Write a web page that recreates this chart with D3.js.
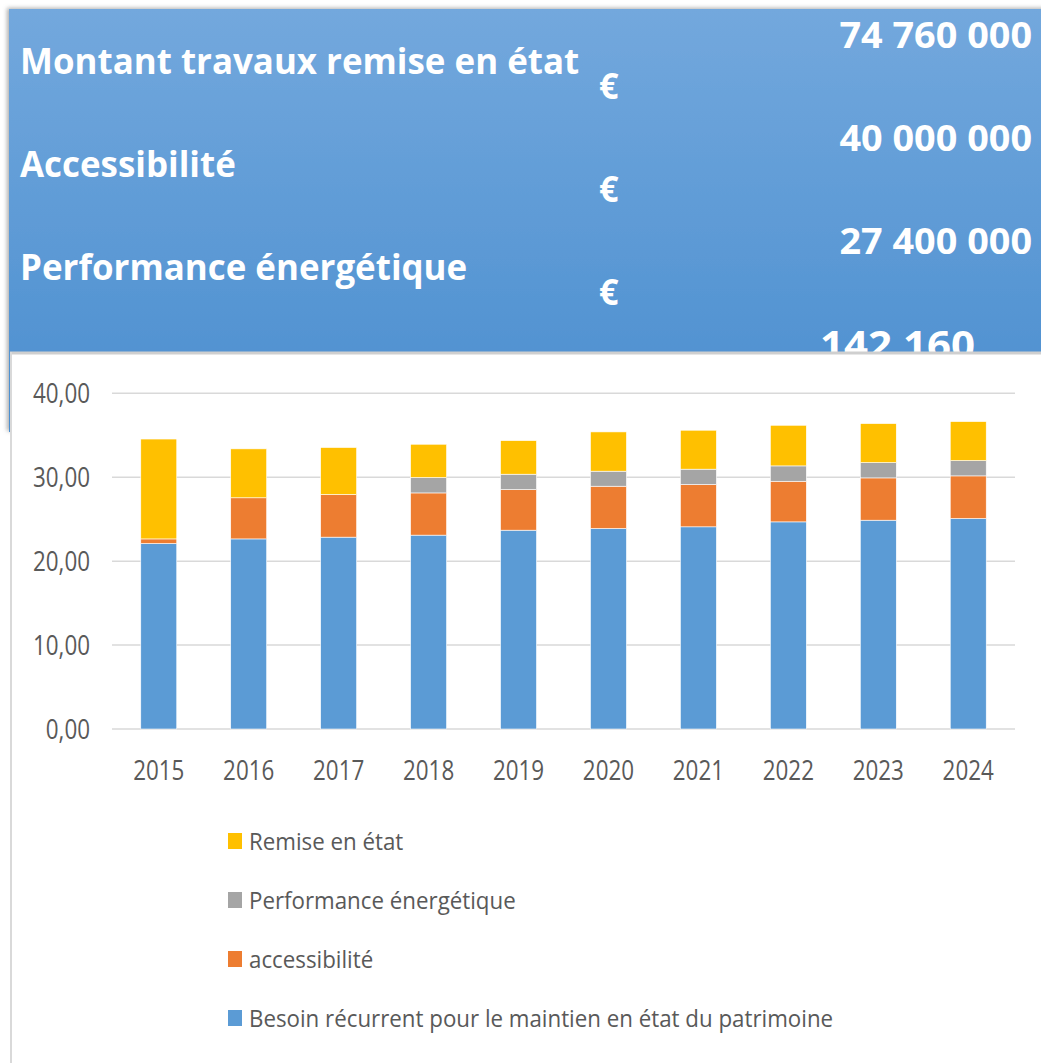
<!DOCTYPE html>
<html>
<head>
<meta charset="utf-8">
<script src="https://cdn.jsdelivr.net/npm/d3@7"></script>
<style>
  body { margin: 0; background: #fff; }
  svg { display: block; }
</style>
</head>
<body>
<script>
// données (millions d'euros)
const years = ["2015", "2016", "2017", "2018", "2019", "2020", "2021", "2022", "2023", "2024"];
const besoin = [22.1, 22.65, 22.86, 23.1, 23.69, 23.89, 24.09, 24.68, 24.88, 25.08];
const accessibilite = [0.55, 4.9, 5.08, 5.03, 4.84, 5.04, 5.04, 4.84, 5.04, 5.08];
const performance = [0, 0, 0, 1.83, 1.83, 1.79, 1.83, 1.83, 1.82, 1.82];
const remise = [11.9, 5.83, 5.6, 3.97, 4.0, 4.68, 4.64, 4.84, 4.65, 4.65];
const yTicks = [0, 10, 20, 30, 40];

const seriesKeys = ["besoin", "accessibilite", "performance", "remise"];
const seriesNames = ["Besoin récurrent pour le maintien en état du patrimoine", "accessibilité", "Performance énergétique", "Remise en état"];
const seriesColors = ["#5b9bd5", "#ed7d31", "#a5a5a5", "#ffc000"];

const headerLabels = ["Montant travaux remise en état", "Accessibilité", "Performance énergétique", ""];
const headerAmounts = ["74 760 000", "40 000 000", "27 400 000", "142 160"];

const width = 1041, height = 1063;

const table = years.map((y, i) => ({
  year: y, besoin: besoin[i], accessibilite: accessibilite[i],
  performance: performance[i], remise: remise[i]
}));

const svg = d3.select("body").append("svg")
    .attr("width", width)
    .attr("height", height)
    .attr("viewBox", [0, 0, width, height]);

const defs = svg.append("defs");
const grad = defs.append("linearGradient")
    .attr("id", "bleu")
    .attr("x1", 0).attr("y1", 0).attr("x2", 0).attr("y2", 1);
grad.append("stop").attr("offset", "0%").attr("stop-color", "#73a8dd");
grad.append("stop").attr("offset", "100%").attr("stop-color", "#4a8ecf");

const shadow = defs.append("filter").attr("id", "ombre")
    .attr("x", "-5%").attr("y", "-5%").attr("width", "110%").attr("height", "110%");
shadow.append("feDropShadow")
    .attr("dx", -2).attr("dy", -1)
    .attr("stdDeviation", 2)
    .attr("flood-color", "#8c8c8c")
    .attr("flood-opacity", 0.7);

// bandeau bleu
svg.append("rect")
    .attr("x", 9).attr("y", 9)
    .attr("width", width)
    .attr("height", 423)
    .attr("fill", "url(#bleu)")
    .attr("filter", "url(#ombre)");

const head = svg.append("g")
    .attr("font-family", "'Open Sans', sans-serif")
    .attr("font-weight", 700)
    .attr("font-size", 36)
    .attr("fill", "#fff");

const rowStep = 103;
headerLabels.forEach((label, i) => {
  const y0 = i * rowStep;
  const last = i === headerLabels.length - 1;
  if (label) {
    head.append("g").attr("transform", `translate(20,${74 + y0})`)
      .append("text")
        .attr("transform", "scale(0.97,1)")
        .text(label);
    head.append("g").attr("transform", `translate(599,${99 + y0})`)
      .append("text")
        .attr("transform", "scale(0.95,1)")
        .text("€");
  }
  head.append("g").attr("transform", `translate(${last ? 975 : 1032},${(last ? 50 : 48) + y0})`)
    .append("text")
      .attr("text-anchor", "end")
      .attr("font-size", last ? 40 : 36)
      .attr("transform", "scale(1.05,1)")
      .text(headerAmounts[i]);
});

// panneau blanc du graphique
svg.append("rect")
    .attr("x", 11).attr("y", 352)
    .attr("width", width).attr("height", height - 352)
    .attr("fill", "#fff");
svg.append("line")
    .attr("x1", 10).attr("x2", width).attr("y1", 353).attr("y2", 353)
    .attr("stroke", "#cfcfcf").attr("stroke-width", 3);
svg.append("line")
    .attr("x1", 11).attr("x2", 11).attr("y1", 352).attr("y2", height)
    .attr("stroke", "#d9d9d9").attr("stroke-width", 2);

const x = d3.scaleBand()
    .domain(years)
    .range([112, 1015])
    .paddingInner(0.6)
    .paddingOuter(0.32);

const y = d3.scaleLinear()
    .domain([0, 40])
    .range([729, 393.3]);

const textColor = "#595959";
const condense = 0.8;

// grille
svg.append("g")
    .selectAll("line")
    .data(yTicks)
    .join("line")
      .attr("x1", 112).attr("x2", 1015)
      .attr("y1", d => y(d)).attr("y2", d => y(d))
      .attr("stroke", "#d9d9d9")
      .attr("stroke-width", 1.5);

// étiquettes axe y
svg.append("g")
    .attr("font-family", "'Open Sans', sans-serif")
    .attr("font-size", 28)
    .attr("fill", textColor)
  .selectAll("g")
  .data(yTicks)
  .join("g")
    .attr("transform", d => `translate(90,${y(d)})`)
  .append("text")
    .attr("text-anchor", "end")
    .attr("dy", "0.36em")
    .attr("transform", `scale(${condense},1)`)
    .text(d => d3.format(".2f")(d).replace(".", ","));

// barres empilées
const stacked = d3.stack().keys(seriesKeys)(table);
const color = d3.scaleOrdinal(seriesKeys, seriesColors);

svg.append("g")
  .selectAll("g")
  .data(stacked)
  .join("g")
    .attr("fill", d => color(d.key))
  .selectAll("rect")
  .data(d => d.filter(s => s[1] - s[0] > 0))
  .join("rect")
    .attr("x", d => x(d.data.year))
    .attr("width", x.bandwidth())
    .attr("y", d => y(d[1]))
    .attr("height", d => y(d[0]) - y(d[1]))
    .attr("stroke", "#fff")
    .attr("stroke-width", 0.6);

// étiquettes axe x
svg.append("g")
    .attr("font-family", "'Open Sans', sans-serif")
    .attr("font-size", 28)
    .attr("fill", textColor)
  .selectAll("g")
  .data(years)
  .join("g")
    .attr("transform", d => `translate(${x(d) + x.bandwidth() / 2},780)`)
  .append("text")
    .attr("text-anchor", "middle")
    .attr("transform", `scale(${condense},1)`)
    .text(d => d);

// légende (ordre inversé comme l'original)
const legendOrder = d3.range(seriesKeys.length).reverse();
const legendScale = 0.93;
const legend = svg.append("g")
    .attr("font-family", "'Open Sans', sans-serif")
    .attr("font-size", 24)
    .attr("fill", textColor)
  .selectAll("g")
  .data(legendOrder)
  .join("g")
    .attr("transform", (d, i) => `translate(228,${850 + i * 59})`);

legend.append("rect")
    .attr("y", -17)
    .attr("width", 14)
    .attr("height", 16)
    .attr("fill", d => seriesColors[d]);

legend.append("text")
    .attr("x", 21 / legendScale)
    .attr("transform", `scale(${legendScale},1)`)
    .text(d => seriesNames[d]);
</script>
</body>
</html>
